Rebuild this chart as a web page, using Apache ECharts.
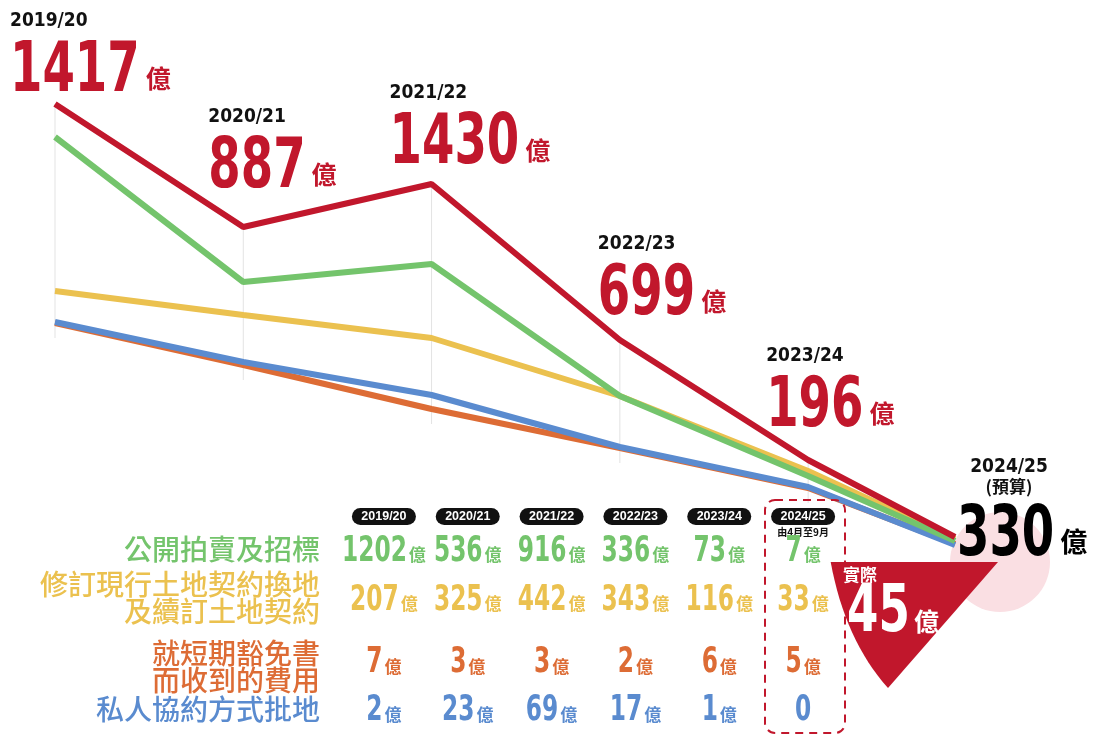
<!DOCTYPE html>
<html>
<head>
<meta charset="utf-8">
<script src="https://cdn.jsdelivr.net/npm/echarts@6/dist/echarts.min.js"></script>
<style>
  html, body { margin: 0; padding: 0; background: #fff; }
  #chart { width: 1096px; height: 736px; }
</style>
</head>
<body>
<div id="chart"></div>
<script>
// years and totals (億)
const years = ["2019/20", "2020/21", "2021/22", "2022/23", "2023/24", "2024/25"];
const totals = [1417, 887, 1430, 699, 196, 330];
const actual2425 = 45;
const tableNote = "由4月至9月";

const xPos = [0, 1, 2, 3, 4, 4.78];
const redLine = [496, 373, 416, 260, 140, 63];
const greenLine = [463, 318, 336, 204, 124, 59];
const yellowLine = [309, 285, 262, 204, 129, 61];
const orangeLine = [277, 235, 191, 152, 112, 56];
const blueLine = [278, 238, 205, 153, 113, 55];

// table rows
const rowNames = [
  "公開拍賣及招標",
  "修訂現行土地契約換地\n及續訂土地契約",
  "就短期豁免書\n而收到的費用",
  "私人協約方式批地",
];
const auctionVals = [1202, 536, 916, 336, 73, 7];
const modifyVals = [207, 325, 442, 343, 116, 33];
const waiverVals = [7, 3, 3, 2, 6, 5];
const privateVals = [2, 23, 69, 17, 1, 0];

const RED = "#c1172c";
const GREEN = "#74c46c";
const YELLOW = "#ebc14f";
const ORANGE = "#dd6c35";
const BLUE = "#5a8bcf";
const rowColors = [GREEN, YELLOW, ORANGE, BLUE];

const NUMFACE = "'DejaVu Sans Condensed', 'DejaVu Sans', sans-serif";
const CJK = "'Noto Sans CJK TC', 'Noto Sans CJK SC', sans-serif";
const SQUEEZE = 0.74; // horizontal squeeze to get the poster's narrow digits

// where each total sits: [left edge, baseline] relative to its point
const labelOffsets = [[-45, -11], [-35, -38], [-42, -19], [-22, -24], [-42, -32], [2, 20]];
// small vertical nudges of the table rows (px), the poster's rows are not evenly spaced
const rowNudge = [0, -4, 5, 0];

const measureCtx = document.createElement("canvas").getContext("2d");
function textWidth(text, font) {
  measureCtx.font = font;
  return measureCtx.measureText(text).width;
}
// y for a 'middle' aligned digit string so its baseline lands on b
function digitMid(b, fs) {
  return b - 0.285 * fs;
}

const chart = echarts.init(document.getElementById("chart"), null, { renderer: "canvas" });

function totalLabel(params, api) {
  const i = api.value(3);
  const p = api.coord([api.value(0), api.value(1)]);
  const last = i === totals.length - 1;
  const color = last ? "#000" : RED;
  const L = p[0] + labelOffsets[i][0];
  const B = p[1] + labelOffsets[i][1];
  const fs = 70;
  const numFont = "bold " + fs + "px " + NUMFACE;
  const numText = String(api.value(2));
  const numW = textWidth(numText, numFont) * SQUEEZE;
  const kids = [
    {
      type: "text", x: L, y: digitMid(B, fs), scaleX: SQUEEZE,
      style: { text: numText, font: numFont, fill: color, align: "left", verticalAlign: "middle" },
    },
    {
      type: "text", x: L + numW + 6, y: B - 15,
      style: { text: "億", font: "bold " + (last ? 27 : 25) + "px " + CJK, fill: color, align: "left", verticalAlign: "middle" },
    },
  ];
  if (last) {
    kids.push(
      { type: "text", x: L + 52, y: B - 90,
        style: { text: years[i], font: "bold 19px " + NUMFACE, fill: "#111", align: "center", verticalAlign: "middle" } },
      { type: "text", x: L + 52, y: B - 70,
        style: { text: "(預算)", font: "bold 17px " + CJK, fill: "#111", align: "center", verticalAlign: "middle" } }
    );
  } else {
    kids.push({
      type: "text", x: L, y: B - 72,
      style: { text: years[i], font: "bold 19px " + NUMFACE, fill: "#111", align: "left", verticalAlign: "middle" },
    });
  }
  return { type: "group", children: kids };
}

function tableSeries(values, row, color) {
  return {
    type: "custom",
    xAxisIndex: 1,
    yAxisIndex: 1,
    silent: true,
    z: 4,
    data: values.map((v, i) => [i, row, v]),
    renderItem: (params, api) => {
      const c = api.coord([api.value(0), api.value(1)]);
      const v = api.value(2);
      const cy = c[1] + rowNudge[row];
      const numFont = "bold 35px " + NUMFACE;
      const unitFont = "bold 17px " + CJK;
      const numW = textWidth(String(v), numFont) * SQUEEZE;
      const unitW = v === 0 ? 0 : textWidth("億", unitFont) + 2;
      const x0 = c[0] - (numW + unitW) / 2;
      const kids = [{
        type: "text", x: x0, y: cy + 2, scaleX: SQUEEZE,
        style: { text: String(v), font: numFont, fill: color, align: "left", verticalAlign: "middle" },
      }];
      if (v !== 0) {
        kids.push({
          type: "text", x: x0 + numW + 2, y: cy + 5,
          style: { text: "億", font: unitFont, fill: color, align: "left", verticalAlign: "middle" },
        });
      }
      return { type: "group", children: kids };
    },
  };
}

function lineSeries(name, values, color, z) {
  return {
    name: name,
    type: "line",
    xAxisIndex: 0,
    yAxisIndex: 0,
    data: values.map((v, i) => [xPos[i], v]),
    symbol: "none",
    z: z,
    lineStyle: { color: color, width: 6 },
    silent: true,
  };
}

// the "actual" callout: flat top, straight right side, bowed left side
function calloutShape() {
  const pts = [[830.7, 562], [998, 562], [888, 688]];
  const p0 = [888, 688], c = [845, 640], p2 = [830.7, 562];
  for (let k = 1; k < 16; k++) {
    const t = k / 16;
    pts.push([
      (1 - t) * (1 - t) * p0[0] + 2 * t * (1 - t) * c[0] + t * t * p2[0],
      (1 - t) * (1 - t) * p0[1] + 2 * t * (1 - t) * c[1] + t * t * p2[1],
    ]);
  }
  return pts;
}

// row label text, with a spacer line to nudge the two-line rows apart
function rowLabel(v, i) {
  const tag = ["g", "y", "o", "b"][i];
  const body = v.split("\n").map((s) => "{" + tag + "|" + s + "}").join("\n");
  if (rowNudge[i] < 0) return body + "\n{gapS|\u3000}";
  if (rowNudge[i] > 0) return "{gapL|\u3000}\n" + body;
  return body;
}
const rowRich = {
  gapS: { fontSize: 8, lineHeight: 10 },
  gapL: { fontSize: 8, lineHeight: 22 },
};
["g", "y", "o", "b"].forEach((tag, i) => {
  rowRich[tag] = { color: rowColors[i], fontSize: 28, lineHeight: 27, fontWeight: 500, fontFamily: CJK, align: "right" };
});

const option = {
  backgroundColor: "#fff",
  animation: false,
  grid: [
    { left: 55, right: 141, top: 100, bottom: 136 },
    { left: 342, width: 503, top: 523, height: 216 },
  ],
  xAxis: [
    { type: "value", min: 0, max: 4.78, show: false },
    {
      type: "category",
      gridIndex: 1,
      data: years,
      position: "top",
      axisLine: { show: false },
      axisTick: { show: false },
      axisLabel: {
        margin: -16,
        interval: 0,
        formatter: (v, i) => "{pill|" + v + "}\n{sub|" + (i === years.length - 1 ? tableNote : " ") + "}",
        rich: {
          pill: {
            width: 64, height: 17, lineHeight: 17, align: "center",
            backgroundColor: "#111", borderRadius: 9, color: "#fff",
            fontSize: 12.5, fontWeight: "bold", fontFamily: "'Liberation Sans', sans-serif",
          },
          sub: { fontSize: 10, fontWeight: "bold", color: "#111", fontFamily: CJK, lineHeight: 14, align: "center" },
        },
      },
    },
  ],
  yAxis: [
    { type: "value", min: 0, max: 500, show: false },
    {
      type: "category",
      gridIndex: 1,
      data: rowNames,
      inverse: true,
      axisLine: { show: false },
      axisTick: { show: false },
      axisLabel: {
        margin: 22,
        align: "right",
        formatter: rowLabel,
        rich: rowRich,
      },
    },
  ],
  graphic: [
    {
      type: "circle", z: 0, silent: true,
      shape: { cx: 1000, cy: 562, r: 50 },
      style: { fill: "#fadfe3" },
    },
    {
      type: "rect", z: 5, silent: true,
      shape: { x: 765, y: 500, width: 80, height: 233, r: 10 },
      style: { fill: "none", stroke: RED, lineWidth: 2, lineDash: [8, 6] },
    },
    {
      type: "polygon", z: 20, silent: true,
      shape: { points: calloutShape() },
      style: { fill: RED },
    },
    {
      type: "text", z: 21, silent: true, x: 843, y: 575,
      style: { text: "實際", font: "bold 17px " + CJK, fill: "#fff", align: "left", verticalAlign: "middle" },
    },
    {
      type: "text", z: 21, silent: true, x: 847, y: digitMid(633, 66), scaleX: 0.76,
      style: { text: String(actual2425), font: "bold 66px " + NUMFACE, fill: "#fff", align: "left", verticalAlign: "middle" },
    },
    {
      type: "text", z: 21, silent: true, x: 914, y: 621,
      style: { text: "億", font: "bold 25px " + CJK, fill: "#fff", align: "left", verticalAlign: "middle" },
    },
  ],
  series: [
    {
      type: "custom",
      xAxisIndex: 0,
      yAxisIndex: 0,
      z: 1,
      silent: true,
      data: redLine.slice(0, 5).map((v, i) => [xPos[i], v, Math.min(orangeLine[i], blueLine[i]) - 15]),
      renderItem: (params, api) => {
        const a = api.coord([api.value(0), api.value(1)]);
        const b = api.coord([api.value(0), api.value(2)]);
        return {
          type: "line",
          shape: { x1: a[0], y1: a[1], x2: b[0], y2: b[1] },
          style: { stroke: "#e3e3e3", lineWidth: 1 },
        };
      },
    },
    lineSeries("就短期豁免書而收到的費用", orangeLine, ORANGE, 2),
    lineSeries("私人協約方式批地", blueLine, BLUE, 2),
    lineSeries("修訂現行土地契約換地及續訂土地契約", yellowLine, YELLOW, 2),
    lineSeries("公開拍賣及招標", greenLine, GREEN, 2),
    lineSeries("總數", redLine, RED, 3),
    {
      type: "custom",
      xAxisIndex: 0,
      yAxisIndex: 0,
      z: 4,
      silent: true,
      clip: false,
      data: totals.map((t, i) => [xPos[i], redLine[i], t, i]),
      renderItem: totalLabel,
    },
    tableSeries(auctionVals, 0, GREEN),
    tableSeries(modifyVals, 1, YELLOW),
    tableSeries(waiverVals, 2, ORANGE),
    tableSeries(privateVals, 3, BLUE),
  ],
};

chart.setOption(option);
</script>
</body>
</html>
